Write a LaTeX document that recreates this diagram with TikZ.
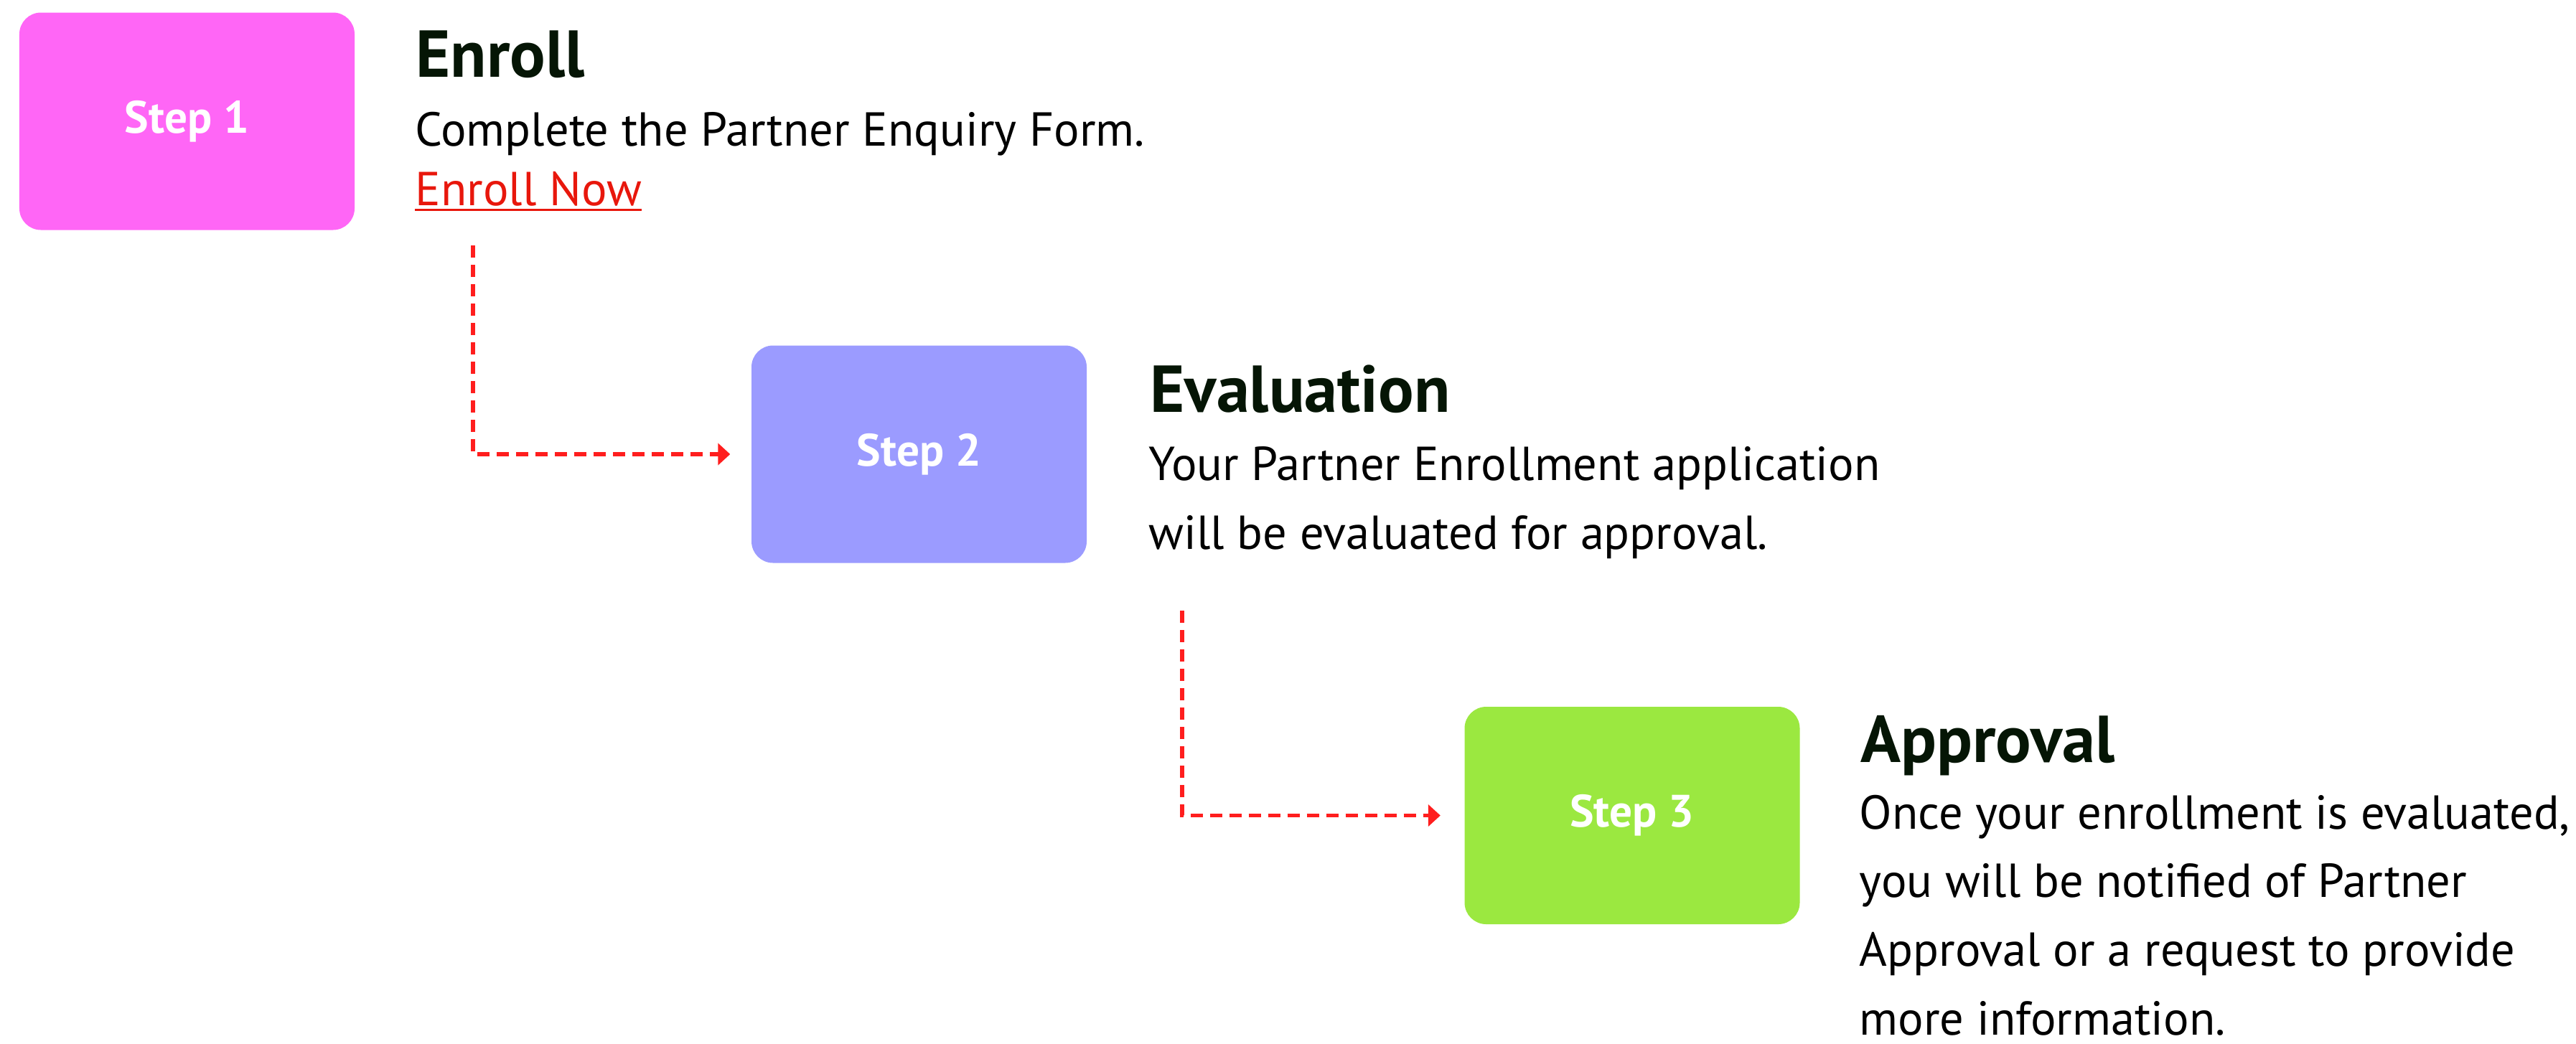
\documentclass[tikz,border=0pt]{standalone}
\usepackage{fontspec}
\setmainfont{PT Sans}
\usetikzlibrary{arrows.meta}
\definecolor{stepone}{HTML}{FF66F6}
\definecolor{steptwo}{HTML}{9B9BFF}
\definecolor{stepthree}{HTML}{9BE840}
\definecolor{headink}{HTML}{051505}
\definecolor{linkred}{HTML}{E8170C}
\definecolor{flowred}{HTML}{FF1E1E}
\begin{document}
\begin{tikzpicture}[
    stepbox/.style={rounded corners=0.3cm, minimum width=4.67cm, minimum height=3.03cm,
        text=white, font=\fontsize{18}{22}\selectfont\bfseries, inner sep=0},
    headtext/.style={anchor=base west, inner sep=0, text=headink,
        font=\fontsize{26.3}{30}\selectfont\bfseries},
    bodytext/.style={anchor=base west, inner sep=0, align=left, text=black,
        font=\fontsize{18.9}{27.2}\selectfont},
    flow/.style={draw=flowred, line width=0.055cm, dash pattern=on 0.17cm off 0.1cm,
        -{Triangle[length=0.17cm,width=0.3cm]}}]
	\useasboundingbox (0,0) rectangle (35.89,-14.54);

	\node[stepbox, fill=stepone] (S1) at (2.605,-1.69) {Step 1};
	\node[headtext] (H1) at (5.79,-1.07) {Enroll};
	\node[bodytext] (B1) at (5.78,-2.03) {Complete the Partner Enquiry Form.};
	\node[bodytext, text=linkred] (L1) at (5.78,-2.86) {Enroll Now};
	\draw[linkred, line width=0.028cm] ([yshift=-0.065cm]L1.base west) -- ([yshift=-0.065cm]L1.base east);

	\node[stepbox, fill=steptwo] (S2) at (12.805,-6.33) {Step 2};
	\node[headtext] (H2) at (16.02,-5.74) {Evaluation};
	\node[bodytext] (B2) at (16.0,-7.65) {Your Partner Enrollment application\\will be evaluated for approval.};

	\node[stepbox, fill=stepthree] (S3) at (22.74,-11.365) {Step 3};
	\node[headtext] (H3) at (25.92,-10.62) {Approval};
	\node[bodytext] (B3) at (25.90,-14.42) {Once your enrollment is evaluated,\\you will be notified of Partner\\Approval or a request to provide\\more information.};

	\coordinate (C1) at (6.59,-3.42);
	\coordinate (C2) at (16.47,-8.51);
	\draw[flow, shorten >=0.29cm] (C1) |- (S2.west);
	\draw[flow, shorten >=0.33cm] (C2) |- (S3.west);
\end{tikzpicture}
\end{document}
